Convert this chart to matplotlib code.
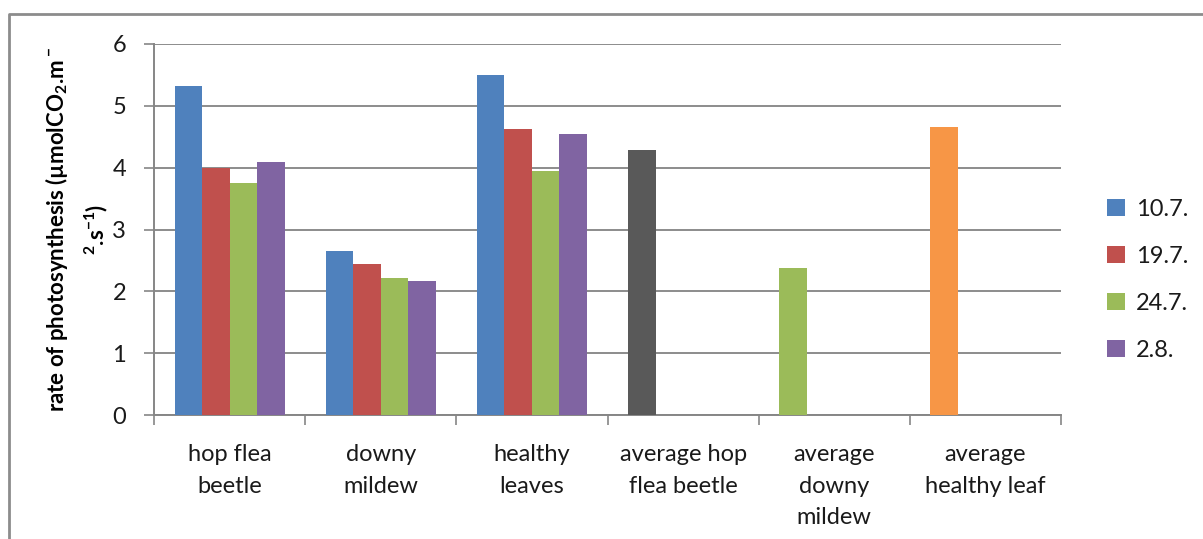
import numpy as np
import matplotlib
matplotlib.use("Agg")
import matplotlib.pyplot as plt
from matplotlib.lines import Line2D
from matplotlib.patches import Patch

plt.rcParams['font.family'] = ['Lato', 'DejaVu Sans']
plt.rcParams['mathtext.default'] = 'regular'

categories = ["hop flea\nbeetle", "downy\nmildew", "healthy\nleaves",
              "average hop\nflea beetle", "average\ndowny\nmildew",
              "average\nhealthy leaf"]
dates = ["10.7.", "19.7.", "24.7.", "2.8."]

# per-date measurements for the three leaf groups
hop_flea_beetle = [5.32, 4.00, 3.76, 4.09]
downy_mildew = [2.65, 2.45, 2.22, 2.16]
healthy_leaves = [5.50, 4.62, 3.94, 4.54]

# group averages
averages = [4.29, 2.37, 4.66]

series_colors = ["#4F81BD", "#C0504D", "#9BBB59", "#8064A2"]
average_colors = ["#595959", "#9BBB59", "#F79646"]

fig = plt.figure(figsize=(12.03, 5.39), dpi=100)
W, H = 1203, 539
ax = fig.add_axes([154 / W, 1 - 415 / H, (1061 - 154) / W, (415 - 44) / H])

groups = np.array([hop_flea_beetle, downy_mildew, healthy_leaves])
w = 1 / 5.5
x_groups = np.arange(3)
for i, (label, col) in enumerate(zip(dates, series_colors)):
    ax.bar(x_groups + (i - 1.5) * w, groups[:, i], width=w, color=col,
           label=label, zorder=3)

x_avg = np.arange(3, 6)
ax.bar(x_avg - 1.5 * w, averages, width=w, color=average_colors, zorder=3)

ax.set_xlim(-0.5, 5.5)
ax.set_ylim(0, 6)
ax.set_yticks(range(7))
ax.set_xticks(range(6))
ax.set_xticklabels(categories, fontsize=17, linespacing=1.62, va='top',
                   color='#1a1a1a')
ax.set_xticks(np.arange(-0.5, 6.0, 1.0), minor=True)
ax.tick_params(axis='x', which='major', length=0, pad=21)
ax.tick_params(axis='x', which='minor', length=7, color='#868686', width=1.2)
ax.tick_params(axis='y', length=7, color='#868686', width=1.2,
               labelsize=17, pad=13, labelcolor='#1a1a1a')

ax.grid(axis='y', color='#8c8c8c', linewidth=1.4, zorder=0)
for s in ['top', 'right']:
    ax.spines[s].set_visible(False)
for s in ['left', 'bottom']:
    ax.spines[s].set_color('#868686')
    ax.spines[s].set_linewidth(1.4)

ax.set_ylabel("rate of photosynthesis (µmolCO$_2$.m$^-$\n$^2$.s$^{-1}$)",
              fontsize=16, fontweight='bold', linespacing=1.55, labelpad=2)

handles = [Patch(facecolor=c, edgecolor='none') for c in series_colors]
fig.legend(handles, dates, loc='center left',
           bbox_to_anchor=(1086 / W, 1 - 280 / H), frameon=False,
           fontsize=17, handlelength=0.75, handleheight=0.75,
           handletextpad=0.45, labelspacing=1.1, labelcolor='#1a1a1a')

# outer chart border
fig.add_artist(Line2D([9 / W, 9 / W, 1], [0, 1 - 14 / H, 1 - 14 / H],
                      color='#8c8c8c', linewidth=2))

fig.savefig("out.png", dpi=100)
